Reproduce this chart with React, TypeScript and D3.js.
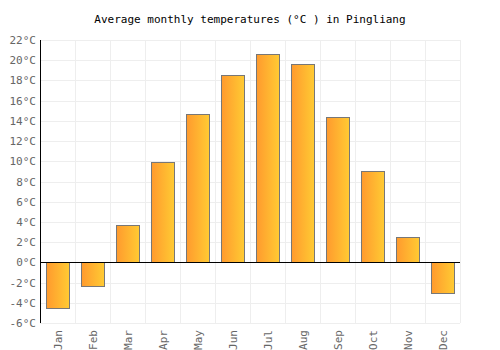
import React, { useEffect, useRef } from "react";
import * as d3 from "d3";

const months = ["Jan", "Feb", "Mar", "Apr", "May", "Jun", "Jul", "Aug", "Sep", "Oct", "Nov", "Dec"];
const temps = [-4.5, -2.3, 3.7, 9.9, 14.7, 18.5, 20.6, 19.6, 14.4, 9.0, 2.5, -3.0];
const yTicks = [-6, -4, -2, 0, 2, 4, 6, 8, 10, 12, 14, 16, 18, 20, 22];

const App = () => {
  const svgRef = useRef<SVGSVGElement>(null);

  useEffect(() => {
    const margin = { top: 40, right: 40, bottom: 27, left: 40 };
    const W = 500;
    const H = 350;
    const width = W - margin.left - margin.right;
    const height = H - margin.top - margin.bottom;

    const root = d3.select(svgRef.current);
    root.selectAll("*").remove();
    root.attr("width", W).attr("height", H);

    const defs = root.append("defs");
    const grad = defs
      .append("linearGradient")
      .attr("id", "barGrad")
      .attr("x1", "0%")
      .attr("x2", "100%")
      .attr("y1", "0%")
      .attr("y2", "0%");
    grad.append("stop").attr("offset", "0%").attr("stop-color", "#ff9a2e");
    grad.append("stop").attr("offset", "100%").attr("stop-color", "#ffcb33");

    root
      .append("text")
      .attr("x", W / 2)
      .attr("y", 23)
      .attr("text-anchor", "middle")
      .style("font-family", "DejaVu Sans Mono")
      .style("font-size", "11px")
      .text("Average monthly temperatures (°C ) in Pingliang");

    const svg = root.append("g").attr("transform", `translate(${margin.left},${margin.top})`);

    const x = d3.scaleBand().domain(months).range([0, width]).paddingInner(0.34).paddingOuter(0.17);
    const xg = d3.scaleBand().domain(months).range([0, width]);
    const y = d3.scaleLinear().domain([-6, 22]).range([height, 0]);

    // grid
    svg
      .selectAll(".hgrid")
      .data(yTicks)
      .enter()
      .append("line")
      .attr("x1", 0)
      .attr("x2", width)
      .attr("y1", (d) => Math.round(y(d)) + 0.5)
      .attr("y2", (d) => Math.round(y(d)) + 0.5)
      .attr("stroke", "#eeeeee");

    svg
      .selectAll(".vgrid")
      .data(months.slice(1).concat(["end"]))
      .enter()
      .append("line")
      .attr("x1", (d, i) => Math.round(i === 11 ? width : (xg(d) as number)) + 0.5)
      .attr("x2", (d, i) => Math.round(i === 11 ? width : (xg(d) as number)) + 0.5)
      .attr("y1", 0)
      .attr("y2", height)
      .attr("stroke", "#eeeeee");

    // bars
    svg
      .selectAll(".bar")
      .data(temps)
      .enter()
      .append("rect")
      .attr("x", (d, i) => Math.round(x(months[i]) as number) + 0.5)
      .attr("y", (d) => Math.round(y(Math.max(0, d))) + 0.5)
      .attr("width", Math.round(x.bandwidth()))
      .attr("height", (d) => Math.round(y(Math.min(0, d))) - Math.round(y(Math.max(0, d))))
      .attr("fill", "url(#barGrad)")
      .attr("stroke", "#777777")
      .attr("stroke-width", 1);

    // zero line and y axis line
    svg
      .append("line")
      .attr("x1", 0)
      .attr("x2", width)
      .attr("y1", Math.round(y(0)) + 0.5)
      .attr("y2", Math.round(y(0)) + 0.5)
      .attr("stroke", "#000");
    svg
      .append("line")
      .attr("x1", 0.5)
      .attr("x2", 0.5)
      .attr("y1", 0)
      .attr("y2", height)
      .attr("stroke", "#000");

    // y labels
    svg
      .selectAll(".ylab")
      .data(yTicks)
      .enter()
      .append("text")
      .attr("x", -4)
      .attr("y", (d) => y(d) + 4)
      .attr("text-anchor", "end")
      .attr("fill", "#666")
      .style("font-family", "DejaVu Sans Mono")
      .style("font-size", "11px")
      .text((d) => `${d}°C`);

    // x labels
    svg
      .selectAll(".xlab")
      .data(months)
      .enter()
      .append("text")
      .attr("transform", (d) => `translate(${(xg(d) as number) + xg.bandwidth() / 2 + 4},${height + 7}) rotate(-90)`)
      .attr("text-anchor", "end")
      .attr("fill", "#666")
      .style("font-family", "DejaVu Sans Mono")
      .style("font-size", "11px")
      .text((d) => d);
  }, []);

  return <svg ref={svgRef} style={{ position: "absolute", left: 0, top: 0 }}></svg>;
};

export default App;
